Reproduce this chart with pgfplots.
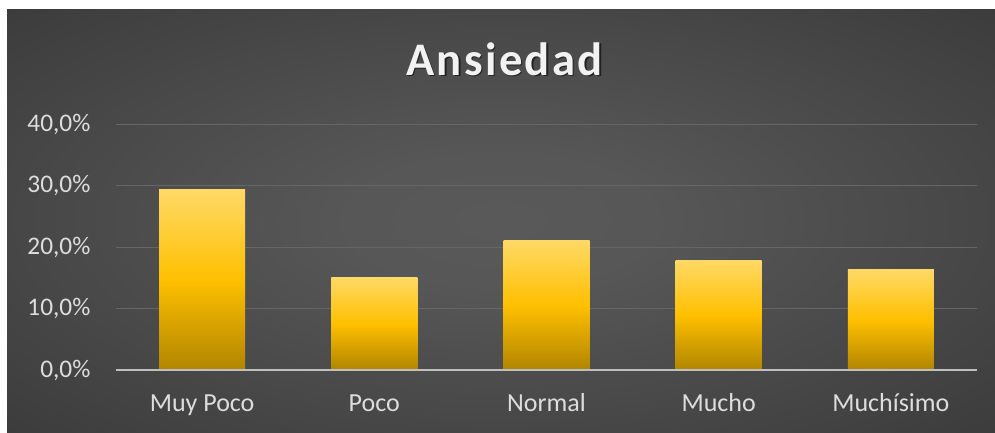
\documentclass[border=0pt]{standalone}
\usepackage{pgfplots}
\pgfplotsset{compat=1.18}
\usepackage{fontspec}
\setmainfont{Carlito}
\newfontfamily\titlefont[LetterSpace=5]{Carlito}
\definecolor{txt}{HTML}{DDDDDD}
\definecolor{gridc}{HTML}{666666}
\definecolor{axl}{HTML}{BFBFBF}
\definecolor{bartop}{HTML}{FFD966}
\definecolor{barmid}{HTML}{FFC000}
\definecolor{barbot}{HTML}{B08500}
\pgfdeclareradialshading{chartbg}{\pgfpoint{0bp}{0bp}}{rgb(0bp)=(0.35,0.35,0.35); rgb(8bp)=(0.34,0.34,0.34); rgb(50bp)=(0.18,0.18,0.18); rgb(71bp)=(0.16,0.16,0.16)}
\pgfplotsset{goldbar/.style={ybar, bar width=64.5pt, draw=none, top color=bartop, bottom color=barbot, middle color=barmid}}
\begin{document}
\begin{tikzpicture}
\fill[white] (0,0) rectangle (746.25pt,-324pt);
\shade[shading=chartbg] (5.25pt,-6.75pt) rectangle (746.25pt,-324pt);
\node[anchor=base, inner sep=0pt, text=black, opacity=0.55, font=\titlefont\bfseries\fontsize{35}{40}\selectfont] at (379.4pt,-57.25pt) {Ansiedad};
\node[anchor=base, inner sep=0pt, text=white!95!black, font=\titlefont\bfseries\fontsize{35}{40}\selectfont] at (378.4pt,-56.25pt) {Ansiedad};
\begin{axis}[
  at={(87pt,-277.5pt)}, anchor=south west,
  scale only axis, width=645.75pt, height=184.3pt,
  xmin=-0.5, xmax=4.5, ymin=0, ymax=40,
  axis line style={draw=none},
  major tick length=0pt,
  ymajorgrids, major grid style={draw=gridc, line width=0.75pt},
  xtick={0,1,2,3,4},
  xticklabels={Muy Poco, Poco, Normal, Mucho, Muchísimo},
  ytick={0,10,20,30,40},
  yticklabels={{0,0\%},{10,0\%},{20,0\%},{30,0\%},{40,0\%}},
  yticklabel style={anchor=east, inner sep=0pt, xshift=-19pt, text=txt, font=\fontsize{19}{22}\selectfont},
  xticklabel style={anchor=base, inner sep=0pt, yshift=-30.75pt, text=txt, font=\fontsize{19.5}{22}\selectfont},
]
\addplot[goldbar] coordinates {(0,29.4)};
\addplot[goldbar] coordinates {(1,15.1)};
\addplot[goldbar] coordinates {(2,21.1)};
\addplot[goldbar] coordinates {(3,17.9)};
\addplot[goldbar] coordinates {(4,16.3)};
\draw[axl, line width=1.1pt] (axis cs:-0.5,0) -- (axis cs:4.5,0);
\end{axis}
\end{tikzpicture}
\end{document}
